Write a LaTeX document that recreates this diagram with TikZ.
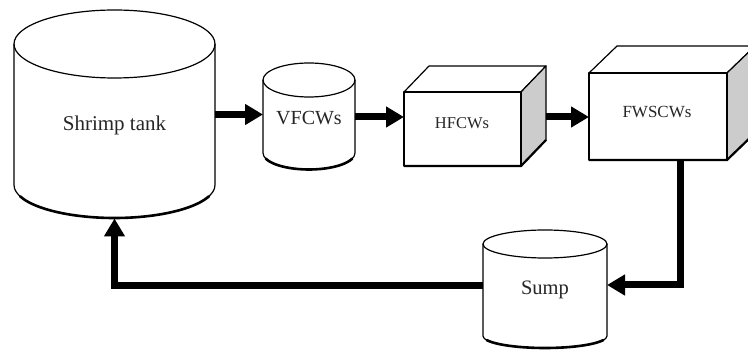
\documentclass[tikz,border=0pt]{standalone}
\usepackage{fontspec}
\setmainfont{Liberation Serif}
\usetikzlibrary{arrows.meta}
\definecolor{sidegray}{gray}{0.80}
\definecolor{inkgray}{gray}{0.15}
\tikzset{
  outline/.style={line width=1.2pt, line join=round, draw=black},
  ground/.style={line width=2.6pt, line cap=round},
  area/.style={inner sep=0pt, outer sep=0pt, draw=none},
  lbl/.style={inner sep=0pt, text=inkgray},
  flow/.style={line width=7pt, draw=black, -{Triangle[length=18pt,width=20pt]}},
  % cylinder: origin at centre of the top ellipse; rx, top ry, side height, bottom ry
  pics/drum/.style n args={4}{code={
    \fill[white] (-#1,0) -- (-#1,-#3) arc[start angle=180,end angle=360,x radius=#1,y radius=#4]
                 -- (#1,0) arc[start angle=0,end angle=180,x radius=#1,y radius=#2] -- cycle;
    \draw[outline] (0,0) ellipse[x radius=#1,y radius=#2];
    \draw[outline] (-#1,0) -- (-#1,-#3) arc[start angle=180,end angle=360,x radius=#1,y radius=#4] -- (#1,0);
    \draw[ground] (0,-#3) ++(200:#1 and #4) arc[start angle=200,end angle=340,x radius=#1,y radius=#4];
  }},
  % box: origin at lower left corner of the front face; width, height, depth dx, depth dy
  pics/crate/.style n args={4}{code={
    \filldraw[outline, fill=white] (0,#2) -- (#3,#2+#4) -- (#1+#3,#2+#4) -- (#1,#2) -- cycle;
    \filldraw[outline, fill=sidegray] (#1,0) -- (#1+#3,#4) -- (#1+#3,#2+#4) -- (#1,#2) -- cycle;
    \filldraw[outline, fill=white] (0,0) rectangle (#1,#2);
    \draw[line width=2.2pt] (0,0) -- (#1,0) -- (#1+#3,#4);
  }}
}
\begin{document}
\begin{tikzpicture}[x=1pt, y=1pt]
  \clip (0,0) rectangle (748,351);
  \fill[white] (0,0) rectangle (748,351);

  % vessels
  \pic at (114.5,307) {drum={100.5}{34}{141}{33}};
  \pic at (309,271) {drum={46}{17}{73}{16.5}};
  \pic at (545,107) {drum={62}{14}{92}{12}};
  \pic at (404,185) {crate={117}{74}{25}{26}};
  \pic at (589,191) {crate={138}{87}{28}{27}};

  % outlines used as connector anchors
  \node[area, minimum width=201pt, minimum height=208pt] (shrimp) at (114.5,236.5) {};
  \node[area, minimum width=92pt, minimum height=106.5pt] (vfcw) at (309,234.75) {};
  \node[area, minimum width=117pt, minimum height=74pt] (hfcw) at (462.5,222) {};
  \node[area, minimum width=138pt, minimum height=87pt] (fwscw) at (658,234.5) {};
  \node[area, minimum width=124pt, minimum height=118pt] (sump) at (545,62) {};
  \coordinate (hfcw-out) at (546,234);
  \coordinate (fwscw-out) at (680,191);

  % labels
  \node[lbl, font=\fontsize{21}{24}\selectfont] (shrimp-text) at (114.5,226) {Shrimp tank};
  \node[lbl, font=\fontsize{20}{24}\selectfont] (vfcw-text) at (309,233) {VFCWs};
  \node[lbl, font=\fontsize{16.5}{20}\selectfont] (hfcw-text) at (462,228) {HFCWs};
  \node[lbl, font=\fontsize{17}{20}\selectfont] (fwscw-text) at (657,239) {FWSCWs};
  \node[lbl, font=\fontsize{20.5}{24}\selectfont] (sump-text) at (545,61) {Sump};

  % water flow
  \draw[flow] (shrimp.east) -- (shrimp.east -| vfcw.west);
  \draw[flow] (vfcw.east) ++(0,-0.75) -- (hfcw.west |- 0,234);
  \draw[flow] (hfcw-out) -- (hfcw-out -| fwscw.west);
  \draw[flow] (fwscw-out) |- ([yshift=4pt]sump.east);
  \draw[flow] ([yshift=3pt]sump.west) -| (shrimp.south);
\end{tikzpicture}
\end{document}
